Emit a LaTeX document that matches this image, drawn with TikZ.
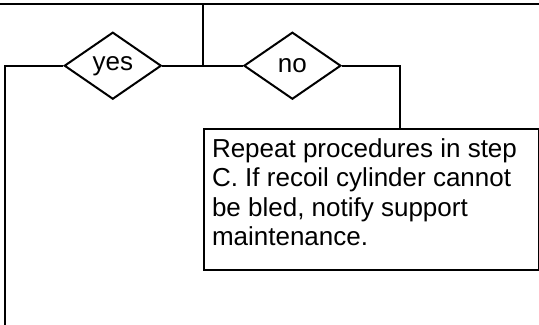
\documentclass[tikz,border=0pt]{standalone}
\usepackage{fontspec}
\setmainfont{Liberation Sans}
\usetikzlibrary{shapes.geometric}
\begin{document}
\begin{tikzpicture}[x=1bp,y=-1bp,
  line width=2bp,
  decision/.style={diamond,draw,line width=2bp,aspect=1.45,inner sep=0pt,
    minimum width=97bp,minimum height=67bp,font=\fontsize{26bp}{29.4bp}\selectfont},
  actionbox/.style={rectangle,draw,line width=2bp,anchor=north west,inner sep=0pt,
    minimum width=335bp,minimum height=141bp},
  boxtext/.style={anchor=north west,inner sep=0pt,align=left,
    font=\fontsize{26bp}{29.4bp}\selectfont}]
\useasboundingbox (0,0) rectangle (539,324);
% top line
\coordinate (tl) at (0,4);
\coordinate (tr) at (539,4);
\coordinate (tj) at (202.5,4);
\coordinate (jn) at (202.5,65.7);
\draw[line width=2.5bp] (tl) -- (tr);
\draw (tj) -- (jn);
% decisions
\node[decision] (yes) at (112.8,65.7) {yes};
\node[decision] (no) at (292.4,65.7) {no};
\draw (yes.east) -- (no.west);
% yes branch
\coordinate (lc) at (5,65.7);
\coordinate (lb) at (5,326);
\draw (yes.west) -- (lc) -- (lb);
% box
\node[actionbox] (box) at (203,128) {};
\node[boxtext] (txt) at (211,137.5) {Repeat procedures in step\\C. If recoil cylinder cannot\\be bled, notify support\\maintenance.};
\coordinate (rc) at (400,65.7);
\draw (no.east) -- (rc) -- (rc |- box.north);
\end{tikzpicture}
\end{document}
